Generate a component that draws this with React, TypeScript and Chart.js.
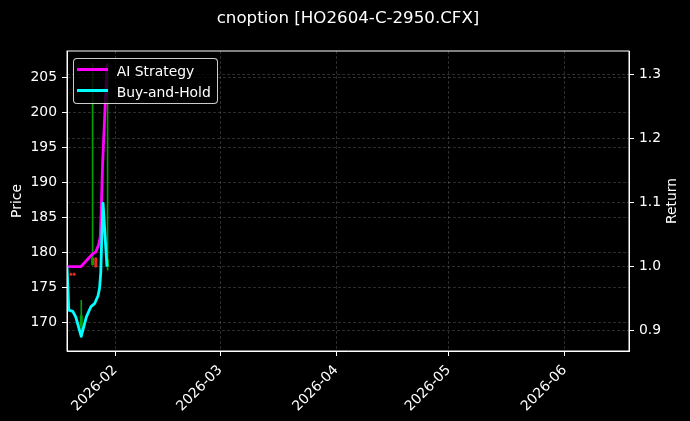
import React, { useEffect, useRef } from 'react';
import { Chart, registerables } from 'chart.js';

Chart.register(...registerables);

const TITLE = 'cnoption [HO2604-C-2950.CFX]';
const PRICE_LABEL = 'Price';
const RETURN_LABEL = 'Return';
const SERIES_NAMES = ['AI Strategy', 'Buy-and-Hold'];
const SERIES_COLORS = ['#ff00ff', '#00ffff'];

// x values: days since 2026-01-01 (fractional days)
const monthTickLabels = ['2026-02', '2026-03', '2026-04', '2026-05', '2026-06'];
const priceTicks = [170, 175, 180, 185, 190, 195, 200, 205];
const returnTicks = [0.9, 1.0, 1.1, 1.2, 1.3];

const xRange = [18.12, 168.15];
const priceRange = [165.96, 208.8];
const returnRange = [0.868, 1.337];

const strategyDays = [18.12, 21.85, 25.0, 25.8, 26.57, 27.0, 27.27, 27.61, 28.79];
const strategyReturn = [1.0, 1.0, 1.02, 1.023, 1.034, 1.046, 1.089, 1.159, 1.316];

const holdDays = [18.12, 18.6, 19.67, 20.47, 21.91, 23.27, 24.52, 25.48, 26.39, 26.81, 27.13, 27.45, 27.75, 28.79];
const holdReturn = [1.0, 0.932, 0.93, 0.921, 0.891, 0.921, 0.9375, 0.942, 0.954, 0.966, 0.99, 1.054, 1.099, 1.0];

const candleDays = [19.15, 20.05, 21.93, 24.95, 25.8, 28.95];
const candleOpen = [177.0, 177.0, 169.5, 178.3, 179.2, 178.0];
const candleHigh = [177.1, 177.1, 173.2, 207.0, 179.3, 207.0];
const candleLow = [176.8, 176.8, 168.0, 178.2, 177.9, 177.5];
const candleClose = [176.8, 176.8, 171.0, 179.2, 178.0, 179.0];

const UP = 'rgb(0,160,0)';
const DOWN = 'rgb(225,45,30)';
const GRID = 'rgba(255,255,255,0.22)';
const FONT = 'DejaVu Sans';
const FS = 13.9;

const dayOfLabel = (label: string) => {
  const [y, m] = label.split('-').map(Number);
  return (Date.UTC(y, m - 1, 1) - Date.UTC(2026, 0, 1)) / 86400000;
};
const monthTickDays = monthTickLabels.map(dayOfLabel);

const candleColors = candleDays.map((_, i) => (candleClose[i] >= candleOpen[i] ? UP : DOWN));

const framePlugin = {
  id: 'frameAndReturnTitle',
  afterDatasetsDraw(chart: any) {
    const { ctx, chartArea: a } = chart;
    ctx.save();
    ctx.strokeStyle = '#ffffff';
    ctx.lineWidth = 1;
    ctx.strokeRect(a.left, a.top, a.right - a.left, a.bottom - a.top);
    ctx.restore();
  },
  afterDraw(chart: any) {
    const { ctx, chartArea: a } = chart;
    ctx.save();
    ctx.translate(672.5, (a.top + a.bottom) / 2);
    ctx.rotate(-Math.PI / 2);
    ctx.fillStyle = '#ffffff';
    ctx.font = `${FS}px "${FONT}"`;
    ctx.textAlign = 'center';
    ctx.textBaseline = 'middle';
    ctx.fillText(RETURN_LABEL, 0, 0);
    ctx.restore();
  },
};

const gridCommon = {
  color: GRID,
  lineWidth: 0.8,
  drawTicks: true,
  tickLength: 5,
  tickColor: '#ffffff',
  tickWidth: 1,
  tickBorderDash: [],
};
const borderCommon = { display: true, color: '#ffffff', width: 1, dash: [3, 2] };
const tickFont = { family: FONT, size: FS };

export default function App() {
  const ref = useRef<HTMLCanvasElement | null>(null);

  useEffect(() => {
    if (!ref.current) return;
    const chart = new Chart(ref.current, {
      type: 'line',
      data: {
        datasets: [
          {
            type: 'line',
            label: SERIES_NAMES[1],
            data: holdDays.map((d, i) => ({ x: d, y: holdReturn[i] })),
            borderColor: SERIES_COLORS[1],
            backgroundColor: SERIES_COLORS[1],
            borderWidth: 2.8,
            pointRadius: 0,
            tension: 0,
            borderJoinStyle: 'round',
            yAxisID: 'yRet',
            xAxisID: 'x',
            order: 0,
          },
          {
            type: 'line',
            label: SERIES_NAMES[0],
            data: strategyDays.map((d, i) => ({ x: d, y: strategyReturn[i] })),
            borderColor: SERIES_COLORS[0],
            backgroundColor: SERIES_COLORS[0],
            borderWidth: 2.8,
            pointRadius: 0,
            tension: 0,
            borderJoinStyle: 'round',
            yAxisID: 'yRet',
            xAxisID: 'x',
            order: 1,
          },
          {
            type: 'bar',
            label: 'body',
            data: candleDays.map((d, i) => ({ x: d, y: [candleOpen[i], candleClose[i]] })),
            backgroundColor: candleColors,
            borderWidth: 0,
            barThickness: 2.3,
            grouped: false,
            yAxisID: 'yPrice',
            xAxisID: 'x',
            order: 2,
          },
          {
            type: 'bar',
            label: 'wick',
            data: candleDays.map((d, i) => ({ x: d, y: [candleLow[i], candleHigh[i]] })),
            backgroundColor: candleColors,
            borderWidth: 0,
            barThickness: 1,
            grouped: false,
            yAxisID: 'yPrice',
            xAxisID: 'x',
            order: 3,
          },
        ] as any,
      },
      options: {
        responsive: false,
        animation: false,
        layout: { padding: 0 },
        events: [],
        plugins: {
          legend: { display: false },
          tooltip: { enabled: false },
          title: {
            display: true,
            text: TITLE,
            color: '#ffffff',
            fullSize: false,
            font: { family: FONT, size: 16.67, weight: 'normal' },
            padding: { top: 8.3, bottom: 22.7 },
          },
        },
        scales: {
          x: {
            type: 'linear',
            position: 'bottom',
            min: xRange[0],
            max: xRange[1],
            offset: false,
            grid: { ...gridCommon, offset: false },
            border: borderCommon,
            ticks: {
              color: '#ffffff',
              font: tickFont,
              autoSkip: false,
              maxRotation: 45,
              minRotation: 45,
              padding: 6,
              callback: (_v: any, i: number) => monthTickLabels[i],
            },
            afterBuildTicks: (s: any) => {
              s.ticks = monthTickDays.map((v) => ({ value: v }));
            },
            afterFit: (s: any) => {
              s.height = 70;
            },
          },
          yPrice: {
            type: 'linear',
            position: 'left',
            min: priceRange[0],
            max: priceRange[1],
            grid: gridCommon,
            border: borderCommon,
            ticks: { color: '#ffffff', font: tickFont, padding: 5 },
            title: {
              display: true,
              text: PRICE_LABEL,
              color: '#ffffff',
              font: tickFont,
              padding: { top: 8.7, bottom: 0 },
            },
            afterBuildTicks: (s: any) => {
              s.ticks = priceTicks.map((v) => ({ value: v }));
            },
            afterFit: (s: any) => {
              s.width = 67;
            },
          },
          yRet: {
            type: 'linear',
            position: 'right',
            min: returnRange[0],
            max: returnRange[1],
            grid: gridCommon,
            border: borderCommon,
            ticks: {
              color: '#ffffff',
              font: tickFont,
              padding: 5,
              callback: (v: any) => Number(v).toFixed(1),
            },
            afterBuildTicks: (s: any) => {
              s.ticks = returnTicks.map((v) => ({ value: v }));
            },
            afterFit: (s: any) => {
              s.width = 61;
            },
          },
        } as any,
      },
      plugins: [framePlugin],
    });
    return () => chart.destroy();
  }, []);

  const rows = [
    { name: SERIES_NAMES[0], color: SERIES_COLORS[0], lineTop: 8.6, textTop: 3.5 },
    { name: SERIES_NAMES[1], color: SERIES_COLORS[1], lineTop: 30, textTop: 24.7 },
  ];

  return (
    <div style={{ position: 'fixed', left: 0, top: 0, width: 690, height: 421, background: '#000', overflow: 'hidden' }}>
      <canvas ref={ref} width={690} height={421} style={{ display: 'block', width: 690, height: 421 }} />
      <div
        style={{
          position: 'absolute',
          left: 73.3,
          top: 58.3,
          width: 145,
          height: 46,
          boxSizing: 'border-box',
          background: 'rgba(0,0,0,0.8)',
          border: '1px solid rgba(255,255,255,0.8)',
          borderRadius: 4,
          fontFamily: FONT,
          fontSize: FS,
          color: '#ffffff',
        }}
      >
        {rows.map((r) => (
          <React.Fragment key={r.name}>
            <div style={{ position: 'absolute', left: 2.4, top: r.lineTop, width: 31.6, height: 2.8, background: r.color }} />
            <div style={{ position: 'absolute', left: 42.4, top: r.textTop, lineHeight: '16px', whiteSpace: 'nowrap' }}>{r.name}</div>
          </React.Fragment>
        ))}
      </div>
    </div>
  );
}
